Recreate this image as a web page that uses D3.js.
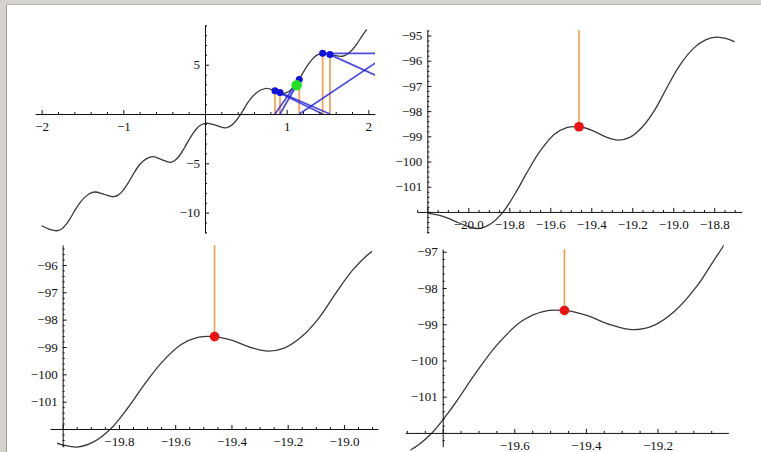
<!DOCTYPE html>
<html>
<head>
<meta charset="utf-8">
<script src="https://cdn.jsdelivr.net/npm/d3@7"></script>
<style>
body { margin: 0; background: #fff; }
svg { display: block; }
</style>
</head>
<body>
<svg id="chart" width="761" height="452"></svg>
<script>
// curve over the wide range (top left)
let wideX = [-2.00, -1.90, -1.815, -1.755, -1.698, -1.64, -1.58, -1.52, -1.463, -1.40, -1.346, -1.234, -1.122, -1.06, -1.00, -0.94, -0.878, -0.816, -0.755, -0.695, -0.633, -0.53, -0.428, -0.37, -0.316, -0.26, -0.20, -0.14, -0.08, -0.02, 0.04, 0.145, 0.25, 0.31, 0.37, 0.43, 0.49, 0.55, 0.62, 0.69, 0.755, 0.86, 0.96, 1.02, 1.08, 1.14, 1.20, 1.26, 1.32, 1.38, 1.44, 1.55, 1.68, 1.74, 1.80, 1.86, 1.92, 1.98]
let wideY = [-11.33, -11.70, -11.84, -11.66, -11.17, -10.45, -9.60, -8.88, -8.38, -8.03, -7.91, -8.15, -8.39, -8.20, -7.72, -6.98, -6.10, -5.30, -4.76, -4.45, -4.33, -4.62, -4.90, -4.72, -4.26, -3.55, -2.68, -1.88, -1.30, -1.01, -0.94, -1.18, -1.40, -1.23, -0.78, -0.12, 0.70, 1.45, 2.08, 2.46, 2.61, 2.36, 2.10, 2.26, 2.72, 3.36, 4.20, 4.98, 5.62, 6.02, 6.16, 6.00, 5.86, 6.06, 6.50, 7.12, 7.88, 8.59]

// newton steps in the top left panel
let dotX = [0.857, 0.918, 1.154, 1.44, 1.53]
let dotY = [2.36, 2.18, 3.50, 6.16, 6.03]
let startX = [1.122]
let startY = [2.92]
let tanX1 = [1.154, 1.122, 0.857, 0.918, 1.44, 1.53, 1.154]
let tanY1 = [3.50, 2.92, 2.36, 2.18, 6.16, 6.03, 0]
let tanX2 = [0.857, 0.918, 1.44, 1.53, 2.3, 2.3, 2.3]
let tanY2 = [0, 0, 0, 0, 6.16, 3.15, 6.37]

// same curve near the local maximum (the three zoomed panels)
let zoomX = [-20.20, -20.15, -20.10, -20.05, -20.00, -19.95, -19.89, -19.83, -19.77, -19.71, -19.65, -19.58, -19.52, -19.46, -19.40, -19.33, -19.27, -19.21, -19.15, -19.09, -19.03, -18.97, -18.90, -18.84, -18.79, -18.74, -18.70]
let zoomY = [-102.05, -102.12, -102.25, -102.42, -102.58, -102.66, -102.47, -102.00, -101.25, -100.38, -99.59, -98.92, -98.65, -98.62, -98.75, -99.02, -99.15, -99.03, -98.62, -97.95, -97.05, -96.20, -95.50, -95.16, -95.06, -95.12, -95.25]
let markX = -19.46
let markY = -98.62

// labelled ticks
let tlXTicks = [-2, -1, 1, 2]
let tlYTicks = [5, -5, -10]
let trXTicks = [-20.0, -19.8, -19.6, -19.4, -19.2, -19.0, -18.8]
let trYTicks = [-95, -96, -97, -98, -99, -100, -101]
let blXTicks = [-19.8, -19.6, -19.4, -19.2, -19.0]
let blYTicks = [-96, -97, -98, -99, -100, -101]
let brXTicks = [-19.6, -19.4, -19.2]
let brYTicks = [-97, -98, -99, -100, -101]

let svg = d3.select("#chart")

// window chrome on top and left
svg.append("rect").attr("x", 0).attr("y", 0).attr("width", 761).attr("height", 5).attr("fill", "#d6d3ce")
svg.append("rect").attr("x", 0).attr("y", 0).attr("width", 7).attr("height", 452).attr("fill", "#d6d3ce")
svg.append("line").attr("x1", 6.5).attr("x2", 6.5).attr("y1", 4.5).attr("y2", 452).attr("stroke", "#a5a29c")
svg.append("line").attr("x1", 6.5).attr("x2", 761).attr("y1", 4.5).attr("y2", 4.5).attr("stroke", "#b9b6b0")

let panels = [
    { id: "tl", xDom: [-2.08, 2.08], yDom: [-12.07, 9.03], xPx: [35.1, 374.9], yPx: [233, 25], x0: 0, y0: 0,
      xMaj: tlXTicks, yMaj: tlYTicks, xStep: 0.2, yStep: 1, xFmt: "d", yFmt: "d", wide: true },
    { id: "tr", xDom: [-20.252, -18.666], yDom: [-102.84, -94.78], xPx: [416.7, 741.7], yPx: [233.1, 30], x0: -20.2, y0: -102,
      xMaj: trXTicks, yMaj: trYTicks, xStep: 0.05, yStep: 0.2, xFmt: ".1f", yFmt: "d", clip: [-20.2, -18.7] },
    { id: "bl", xDom: [-20.045, -18.879], yDom: [-102.65, -95.27], xPx: [50, 378], yPx: [446.8, 245], x0: -20.0, y0: -102,
      xMaj: blXTicks, yMaj: blYTicks, xStep: 0.05, yStep: 0.2, xFmt: ".1f", yFmt: "d", clip: [-20.02, -18.9] },
    { id: "br", xDom: [-19.905, -19.002], yDom: [-102.38, -96.93], xPx: [405.1, 728.4], yPx: [446.7, 249.2], x0: -19.8, y0: -102,
      xMaj: brXTicks, yMaj: brYTicks, xStep: 0.05, yStep: 0.2, xFmt: ".1f", yFmt: "d", clip: [-19.89, -19.015] }
]

function minorTicks(dom, step, skip) {
    let lo = Math.ceil(dom[0] / step - 1e-6), hi = Math.floor(dom[1] / step + 1e-6)
    return d3.range(lo, hi + 1).map(i => +(i * step).toFixed(4))
        .filter(v => !skip.some(s => Math.abs(s - v) < step / 4))
}

panels.forEach(p => {
    let x = d3.scaleLinear().domain(p.xDom).range(p.xPx)
    let y = d3.scaleLinear().domain(p.yDom).range(p.yPx)
    let g = svg.append("g").attr("id", p.id)

    // clip region for the marks
    let cx = p.clip ? p.clip : p.xDom
    g.append("clipPath").attr("id", "clip-" + p.id)
        .append("rect")
        .attr("x", x(cx[0])).attr("width", x(cx[1]) - x(cx[0]))
        .attr("y", 0).attr("height", 452)

    let marks = g.append("g").attr("clip-path", `url(#clip-${p.id})`)
    let line = d3.line().x(d => x(d[0])).y(d => y(d[1])).curve(d3.curveCatmullRom.alpha(0.5))

    // axes: ticks point into the plot, labels on the other side
    let xAt = y(p.y0), yAt = x(p.x0)
    let xMajAll = p.xMaj.concat([p.x0])
    let yMajAll = p.yMaj.concat([p.y0])

    let xg = g.append("g").attr("transform", `translate(0,${xAt})`)
    xg.call(d3.axisTop(x).tickValues(minorTicks(p.xDom, p.xStep, xMajAll)).tickSize(2).tickSizeOuter(0).tickFormat(""))
    xg.append("g").call(d3.axisTop(x).tickValues(xMajAll).tickSize(4).tickSizeOuter(0).tickFormat(""))
        .call(s => s.select(".domain").remove())
    xg.append("g").call(d3.axisBottom(x).tickValues(p.xMaj).tickSize(0).tickPadding(8).tickFormat(d3.format(p.xFmt)))
        .call(s => s.select(".domain").remove())

    let yg = g.append("g").attr("transform", `translate(${yAt},0)`)
    yg.call(d3.axisRight(y).tickValues(minorTicks(p.yDom, p.yStep, yMajAll)).tickSize(2).tickSizeOuter(0).tickFormat(""))
    yg.append("g").call(d3.axisRight(y).tickValues(yMajAll).tickSize(4).tickSizeOuter(0).tickFormat(""))
        .call(s => s.select(".domain").remove())
    yg.append("g").call(d3.axisLeft(y).tickValues(p.yMaj).tickSize(0).tickPadding(5).tickFormat(d3.format(p.yFmt)))
        .call(s => s.select(".domain").remove())

    g.selectAll(".domain").attr("stroke", "#111")
    g.selectAll(".tick line").attr("stroke", "#111")
    g.selectAll(".tick text")
        .attr("font-family", "Liberation Serif, Times New Roman, serif")
        .attr("font-size", 13)
        .attr("fill", "#111")

    if (p.wide) {
        marks.append("path")
            .datum(d3.zip(wideX, wideY))
            .attr("d", line)
            .attr("fill", "none").attr("stroke", "#3a3a3a").attr("stroke-width", 1.3)

        // vertical steps up to the curve
        marks.selectAll(".step").data(d3.zip(dotX, dotY)).join("line")
            .attr("class", "step")
            .attr("x1", d => x(d[0])).attr("x2", d => x(d[0]))
            .attr("y1", y(0)).attr("y2", d => y(d[1]))
            .attr("stroke", "#f3a55a").attr("stroke-width", 1.8)

        // tangent lines
        marks.selectAll(".tan").data(d3.zip(tanX1, tanY1, tanX2, tanY2)).join("line")
            .attr("class", "tan")
            .attr("x1", d => x(d[0])).attr("y1", d => y(d[1]))
            .attr("x2", d => x(d[2])).attr("y2", d => y(d[3]))
            .attr("stroke", "#2323d6").attr("stroke-opacity", 0.8).attr("stroke-width", 1.8)

        marks.selectAll(".dot").data(d3.zip(dotX, dotY)).join("circle")
            .attr("class", "dot")
            .attr("cx", d => x(d[0])).attr("cy", d => y(d[1])).attr("r", 3.5)
            .attr("fill", "#1010e0")

        marks.selectAll(".start").data(d3.zip(startX, startY)).join("circle")
            .attr("class", "start")
            .attr("cx", d => x(d[0])).attr("cy", d => y(d[1])).attr("r", 5.2)
            .attr("fill", "#22e022")
    } else {
        marks.append("path")
            .datum(d3.zip(zoomX, zoomY))
            .attr("d", line)
            .attr("fill", "none").attr("stroke", "#3a3a3a").attr("stroke-width", 1.3)

        marks.append("line")
            .attr("x1", x(markX)).attr("x2", x(markX))
            .attr("y1", y(markY)).attr("y2", y(p.yDom[1]))
            .attr("stroke", "#f0a048").attr("stroke-width", 1.6)

        marks.append("circle")
            .attr("cx", x(markX)).attr("cy", y(markY)).attr("r", 4.8)
            .attr("fill", "#ee1111")
    }
})
</script>
</body>
</html>
